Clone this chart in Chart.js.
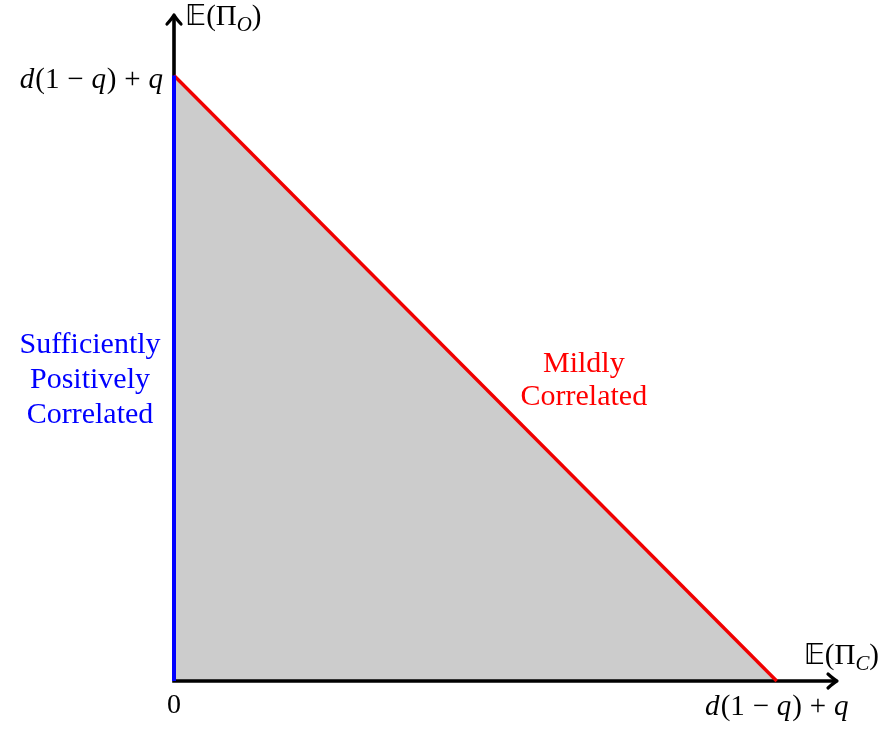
<!DOCTYPE html>
<html>
<head>
<meta charset="utf-8">
<script src="https://cdn.jsdelivr.net/npm/chart.js@4/dist/chart.umd.min.js"></script>
<style>
  html, body { margin: 0; padding: 0; background: #ffffff; }
  #wrap { width: 880px; height: 729px; position: relative; }
</style>
</head>
<body>
<div id="wrap"><canvas id="c"></canvas></div>
<script>
// Feasible payoff region: E(Π_C) + E(Π_O) <= d(1-q)+q, both non-negative.
const frontierX = [0, 1];          // E(Π_C), in units of d(1-q)+q
const frontierY = [1, 0];          // E(Π_O)
const positiveX = [0, 0];          // sufficiently positively correlated edge
const positiveY = [0, 1];
const axisMax = 1.1;               // axes run a little past the payoff bound
const tickValues = [0, 1];

const SERIF = '"Liberation Serif", "DejaVu Serif", serif';
const BB = '"DejaVu Sans", "DejaVu Serif", serif';

function pts(xs, ys) { return xs.map((x, i) => ({ x: x, y: ys[i] })); }

// Text runs: roman / italic / subscript / double-struck, with optional trailing gap.
function setFont(ctx, r, size) {
  const s = r.sub ? size * 0.72 : size;
  ctx.font = (r.bold ? 'bold ' : '') + (r.it ? 'italic ' : '') + s + 'px ' + (r.bb ? BB : SERIF);
}
function runWidth(ctx, runs, size) {
  let w = 0;
  for (const r of runs) { setFont(ctx, r, size); w += ctx.measureText(r.t).width + (r.gap || 0) * size; }
  return w;
}
function drawRuns(ctx, runs, x, y, size, align) {
  const w = runWidth(ctx, runs, size);
  let cx = align === 'right' ? x - w : align === 'center' ? x - w / 2 : x;
  ctx.textBaseline = 'alphabetic';
  ctx.textAlign = 'left';
  for (const r of runs) {
    setFont(ctx, r, size);
    ctx.fillText(r.t, cx, y + (r.sub ? size * 0.2 : 0));
    cx += ctx.measureText(r.t).width + (r.gap || 0) * size;
  }
}

const G = 0.27; // space around binary operators, in em
const boundLabel = [
  { t: 'd', it: true, gap: 0.04 }, { t: '(1', gap: G }, { t: '−', gap: G },
  { t: 'q', it: true, gap: 0.03 }, { t: ')', gap: G }, { t: '+', gap: G }, { t: 'q', it: true }
];
const expO = [{ t: '𝔼', bb: true }, { t: '(Π' }, { t: 'O', it: true, sub: true }, { t: ')' }];
const expC = [{ t: '𝔼', bb: true }, { t: '(Π' }, { t: 'C', it: true, sub: true }, { t: ')' }];

function arrowHead(ctx, x, y, dir) {
  const L = 9, H = 7;
  ctx.beginPath();
  if (dir === 'right') {
    ctx.moveTo(x - L, y - H); ctx.quadraticCurveTo(x - 3, y - 1.5, x, y);
    ctx.quadraticCurveTo(x - 3, y + 1.5, x - L, y + H);
  } else {
    ctx.moveTo(x - H, y + L); ctx.quadraticCurveTo(x - 1.5, y + 3, x, y);
    ctx.quadraticCurveTo(x + 1.5, y + 3, x + H, y + L);
  }
  ctx.stroke();
}

function drawAxes(chart) {
  const ctx = chart.ctx, xs = chart.scales.x, ys = chart.scales.y;
  const x0 = xs.getPixelForValue(0), y0 = ys.getPixelForValue(0);
  const xe = xs.getPixelForValue(axisMax), ye = ys.getPixelForValue(axisMax);
  ctx.save();
  ctx.strokeStyle = '#000';
  ctx.lineWidth = 3.6;
  ctx.lineCap = 'butt';
  ctx.beginPath();
  ctx.moveTo(x0 - 1.8, y0); ctx.lineTo(xe - 1, y0);
  ctx.moveTo(x0, y0 + 1.8); ctx.lineTo(x0, ye + 1);
  ctx.stroke();
  ctx.lineJoin = 'round';
  ctx.lineCap = 'round';
  ctx.lineWidth = 3.2;
  arrowHead(ctx, xe, y0, 'right');
  arrowHead(ctx, x0, ye, 'up');
  ctx.restore();
}

const axesPlugin = {
  id: 'axesPlugin',
  // axes go right above the shaded region, below the coloured edges
  afterDatasetDraw(chart, args) {
    if (args.index === 0) drawAxes(chart);
  },
  afterDatasetsDraw(chart) {
    const ctx = chart.ctx, xs = chart.scales.x, ys = chart.scales.y;
    const x0 = xs.getPixelForValue(0), y0 = ys.getPixelForValue(0);
    const x1 = xs.getPixelForValue(tickValues[1]), y1 = ys.getPixelForValue(tickValues[1]);
    const xe = xs.getPixelForValue(axisMax), ye = ys.getPixelForValue(axisMax);
    ctx.save();
    ctx.fillStyle = '#000';
    // axis titles
    drawRuns(ctx, expO, x0 + 11, ye + 10, 29, 'left');
    drawRuns(ctx, expC, xe + 42, y0 - 17, 29, 'right');
    // tick labels
    drawRuns(ctx, [{ t: String(tickValues[0]) }], x0, y0 + 32, 28, 'center');
    drawRuns(ctx, boundLabel, x0 - 11, y1 + 12, 29, 'right');
    drawRuns(ctx, boundLabel, x1, y0 + 34, 29, 'center');
    // region annotations
    ctx.textAlign = 'center';
    ctx.textBaseline = 'alphabetic';
    ctx.font = '30px ' + SERIF;
    ctx.fillStyle = '#0000ff';
    ['Sufficiently', 'Positively', 'Correlated'].forEach((s, i) => {
      ctx.fillText(s, x0 - 84, 353 + (ys.getPixelForValue(0) - 681) + i * 35);
    });
    ctx.fillStyle = '#ff0000';
    const mx = xs.getPixelForValue(0.68);
    const my = ys.getPixelForValue(0.51);
    ctx.fillText('Mildly', mx, my);
    ctx.fillText('Correlated', mx, my + 33);
    ctx.restore();
  }
};

new Chart(document.getElementById('c'), {
  type: 'scatter',
  data: {
    datasets: [
      {
        label: 'Feasible region',
        data: pts(frontierX, frontierY),
        showLine: true,
        fill: 'origin',
        backgroundColor: '#cccccc',
        borderColor: 'rgba(0,0,0,0)',
        borderWidth: 0,
        pointRadius: 0,
        order: 3,
        clip: false
      },
      {
        label: 'Mildly Correlated',
        data: pts(frontierX, frontierY),
        showLine: true,
        fill: false,
        borderColor: '#f00000',
        borderWidth: 3.4,
        pointRadius: 0,
        order: 2,
        clip: false
      },
      {
        label: 'Sufficiently Positively Correlated',
        data: pts(positiveX, positiveY),
        showLine: true,
        fill: false,
        borderColor: '#0000ff',
        borderWidth: 4,
        pointRadius: 0,
        order: 1,
        clip: false
      }
    ]
  },
  options: {
    responsive: true,
    maintainAspectRatio: false,
    animation: false,
    layout: { padding: { left: 174, right: 43, top: 15, bottom: 48 } },
    plugins: { legend: { display: false }, tooltip: { enabled: false } },
    scales: {
      x: { type: 'linear', min: 0, max: axisMax, display: false },
      y: { type: 'linear', min: 0, max: axisMax, display: false }
    }
  },
  plugins: [axesPlugin]
});
</script>
</body>
</html>
